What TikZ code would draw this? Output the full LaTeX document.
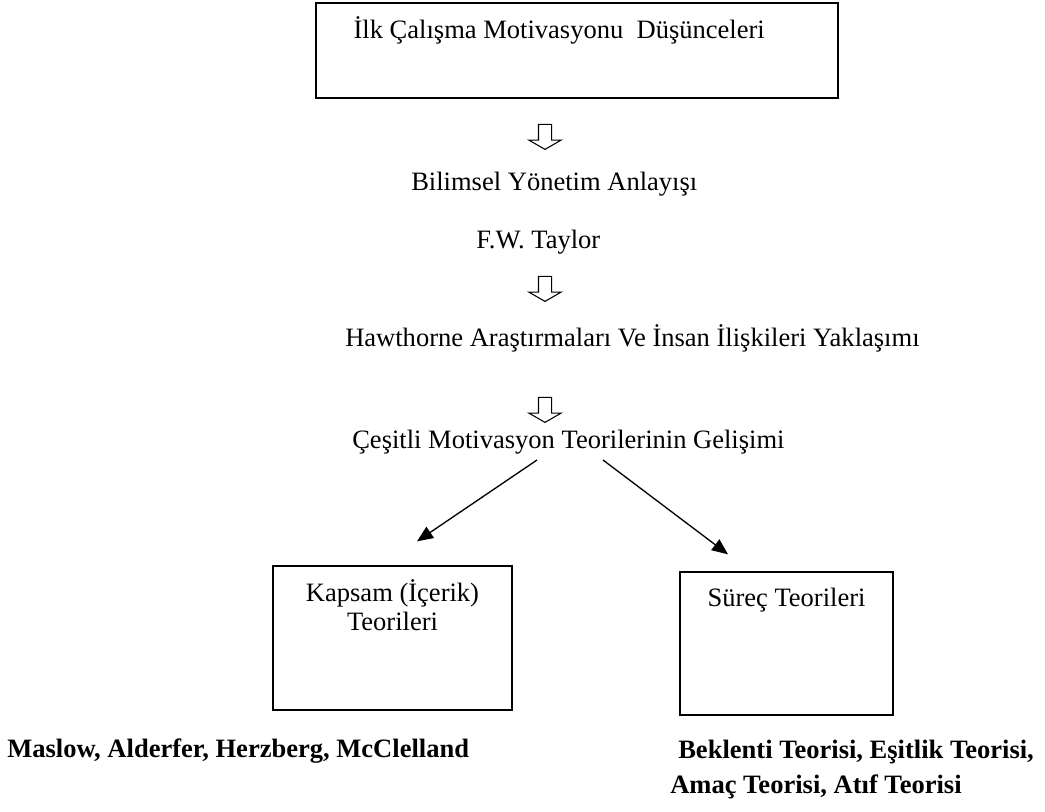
\documentclass[tikz,border=0pt]{standalone}
\usepackage{fontspec}
\setmainfont{Liberation Serif}
\usetikzlibrary{positioning,calc,shapes.arrows,arrows.meta}

\begin{document}
\begin{tikzpicture}[
  x=0.75pt, y=-0.75pt,
  every node/.style={font=\fontsize{19.9}{24}\selectfont},
  box/.style={rectangle, draw, line width=1pt, inner sep=0pt},
  txt/.style={inner sep=0pt, anchor=base west},
  bold/.style={inner sep=0pt, anchor=base west, font=\fontsize{19.9}{24}\selectfont\bfseries},
  down/.style={single arrow, draw, line width=0.8pt, shape border rotate=270, minimum height=18.75pt, minimum width=21pt, single arrow tip angle=120, inner sep=4.5pt},
  link/.style={-{Triangle[length=12pt,width=10pt]}, line width=1pt}
]
  \useasboundingbox (0,0) rectangle (1045,811);

  \node[box, minimum width=391.5pt, minimum height=71.25pt,
    label={[anchor=base west, xshift=28.5pt, yshift=-27pt, inner sep=0pt]north west:İlk Çalışma Motivasyonu~ Düşünceleri}] (ilk) at (577,50.5) {};
  \node[down] (a1) at (545,135) {};
  \node[txt] (bilimsel) at (411,190) {Bilimsel Yönetim Anlayışı};
  \node[txt] (taylor) at (476,248) {F.W. Taylor};
  \node[down] (a2) at (545,287) {};
  \node[txt] (hawthorne) at (345,346) {Hawthorne Araştırmaları Ve İnsan İlişkileri Yaklaşımı};
  \node[down] (a3) at (545,408) {};
  \node[txt] (cesitli) at (352,448) {Çeşitli Motivasyon Teorilerinin Gelişimi};
  \coordinate (dal) at (570,439);

  \node[box, minimum width=179.25pt, minimum height=108pt,
    label={[anchor=base, yshift=-27pt, inner sep=0pt]north:Kapsam (İçerik)},
    label={[anchor=base, yshift=-48.75pt, inner sep=0pt]north:Teorileri}] (kapsam) at (392.5,638) {};
  \node[box, minimum width=159.75pt, minimum height=107.25pt,
    label={[anchor=base, yshift=-26.25pt, inner sep=0pt]north:Süreç Teorileri}] (surec) at (786.5,643.5) {};

  \draw[link] ($(dal)+(-33,21)$) -- ($(kapsam.north)+(24.5,-24)$);
  \draw[link] ($(dal)+(33,21)$) -- ($(surec.north)+(-58.5,-17)$);

  \node[bold] (icerik) at (7,757) {Maslow, Alderfer, Herzberg, McClelland};
  \node[bold] (beklenti) at (678,758) {Beklenti Teorisi, Eşitlik Teorisi,};
  \node[bold] (amac) at (670,793) {Amaç Teorisi, Atıf Teorisi};
\end{tikzpicture}
\end{document}
